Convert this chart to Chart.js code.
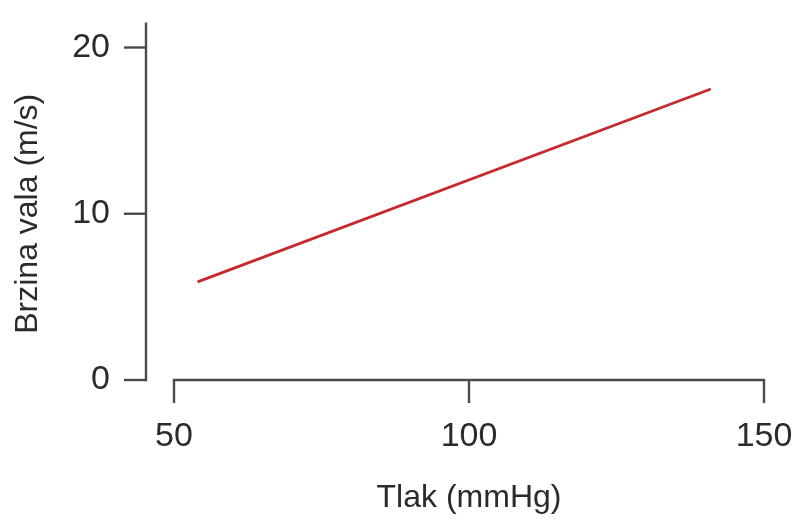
<!DOCTYPE html>
<html><head><meta charset="utf-8">
<script src="https://cdn.jsdelivr.net/npm/chart.js@4/dist/chart.umd.min.js"></script>
<style>html,body{margin:0;padding:0;background:#fff}</style>
</head><body>
<canvas id="c" width="797" height="522"></canvas>
<script>
const pressure = [54, 141];
const velocity = [5.9, 17.5];
const xTicks = [50, 100, 150];
const yTicks = [0, 10, 20];
const xTitle = 'Tlak (mmHg)';
const yTitle = 'Brzina vala (m/s)';

const AXIS = '#4a4a4a';
const TEXT = '#2b2b2b';
const FONT = "'Liberation Sans', Arial, sans-serif";

const axesPlugin = {
  id: 'axes',
  afterDraw(chart) {
    const {ctx, scales: {x, y}} = chart;
    ctx.save();
    ctx.strokeStyle = AXIS;
    ctx.lineWidth = 2.4;
    const y0 = y.getPixelForValue(0);
    const yx = x.getPixelForValue(50) - 28;
    ctx.beginPath();
    ctx.moveTo(yx, y.getPixelForValue(20) - 25);
    ctx.lineTo(yx, y0 + 1.2);
    ctx.stroke();
    yTicks.forEach(v => {
      const p = y.getPixelForValue(v);
      ctx.beginPath(); ctx.moveTo(yx - 22, p); ctx.lineTo(yx, p); ctx.stroke();
    });
    ctx.beginPath();
    ctx.moveTo(x.getPixelForValue(50) - 1.2, y0);
    ctx.lineTo(x.getPixelForValue(150) + 1.2, y0);
    ctx.stroke();
    xTicks.forEach(v => {
      const p = x.getPixelForValue(v);
      ctx.beginPath(); ctx.moveTo(p, y0); ctx.lineTo(p, y0 + 23); ctx.stroke();
    });
    ctx.restore();
  }
};

function zeroPad(s) { s.paddingLeft = 0; s.paddingRight = 0; s.paddingTop = 0; s.paddingBottom = 0; }

new Chart(document.getElementById('c'), {
  type: 'scatter',
  data: {
    datasets: [{
      data: pressure.map((p, i) => ({x: p, y: velocity[i]})),
      showLine: true,
      borderColor: '#c42a2e',
      borderWidth: 2.8,
      pointRadius: 0,
      fill: false
    }]
  },
  options: {
    responsive: false,
    animation: false,
    layout: {padding: {top: 47.5, right: 33, bottom: 0, left: 0}},
    plugins: {legend: {display: false}, tooltip: {enabled: false}},
    scales: {
      x: {
        type: 'linear', min: 50, max: 150,
        afterBuildTicks(s) { s.ticks = xTicks.map(v => ({value: v})); },
        afterFit(s) { s.height = 142; zeroPad(s); },
        grid: {display: false, drawTicks: false},
        border: {display: false},
        ticks: {color: TEXT, padding: 36, font: {family: FONT, size: 34}},
        title: {display: true, text: xTitle, color: TEXT, padding: {top: 0, bottom: 5}, font: {family: FONT, size: 32}}
      },
      y: {
        type: 'linear', min: 0, max: 20,
        afterBuildTicks(s) { s.ticks = yTicks.map(v => ({value: v})); },
        afterFit(s) { s.width = 174; zeroPad(s); },
        grid: {display: false, drawTicks: false},
        border: {display: false},
        ticks: {color: TEXT, padding: 64, font: {family: FONT, size: 34}},
        title: {display: true, text: yTitle, color: TEXT, padding: {top: 9, bottom: 0}, font: {family: FONT, size: 32}}
      }
    }
  },
  plugins: [axesPlugin]
});
</script>
</body></html>
